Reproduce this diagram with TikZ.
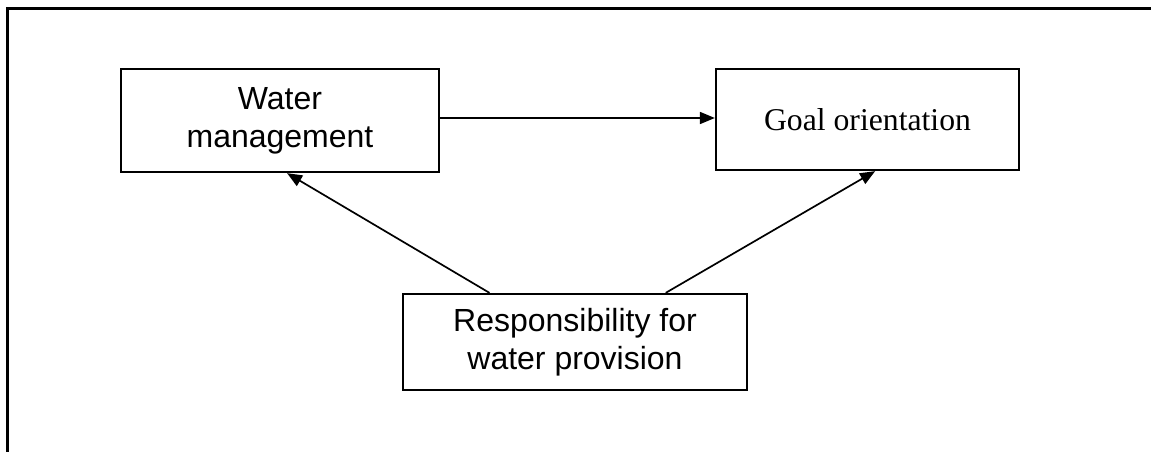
\documentclass[tikz,border=0pt]{standalone}
\usepackage{fontspec}
\setmainfont{Liberation Sans}
\newfontfamily\timesfont{Liberation Serif}
\usetikzlibrary{arrows.meta,calc}
\tikzset{
  box/.style={draw, line width=2.3pt, align=center, inner sep=0pt,
    font=\fontsize{32}{38}\selectfont},
  arr/.style={line width=1.7pt, -{Triangle[length=15pt,width=12pt]}},
  frame/.style={line width=3pt}
}
\begin{document}
\begin{tikzpicture}[x=1pt,y=-1pt]
\useasboundingbox (0,0) rectangle (1151,452);
\coordinate (ftr) at (1155,9);
\coordinate (ftl) at (7,9);
\coordinate (fbl) at (7,456);
\draw[frame] (ftr) -- (ftl) -- (fbl);
\node[box, minimum width=318pt, minimum height=103pt] (wm) at (280,120.5) {Water\\management};
\node[box, minimum width=303pt, minimum height=101pt, font=\fontsize{31.7}{38}\timesfont] (go) at (867.5,119.5) {Goal orientation};
\node[box, minimum width=344pt, minimum height=96pt] (rp) at (575,342) {Responsibility for\\water provision};
\draw[arr] (wm.east |- 0,118) coordinate (ha) -- (ha -| go.west);
\draw[arr] ($(rp.north west)!0.253!(rp.north east)$) -- ($(wm.south west)!0.522!(wm.south east)$);
\draw[arr] ($(rp.north west)!0.762!(rp.north east)$) -- ($(go.south west)!0.525!(go.south east)$);
\end{tikzpicture}
\end{document}
